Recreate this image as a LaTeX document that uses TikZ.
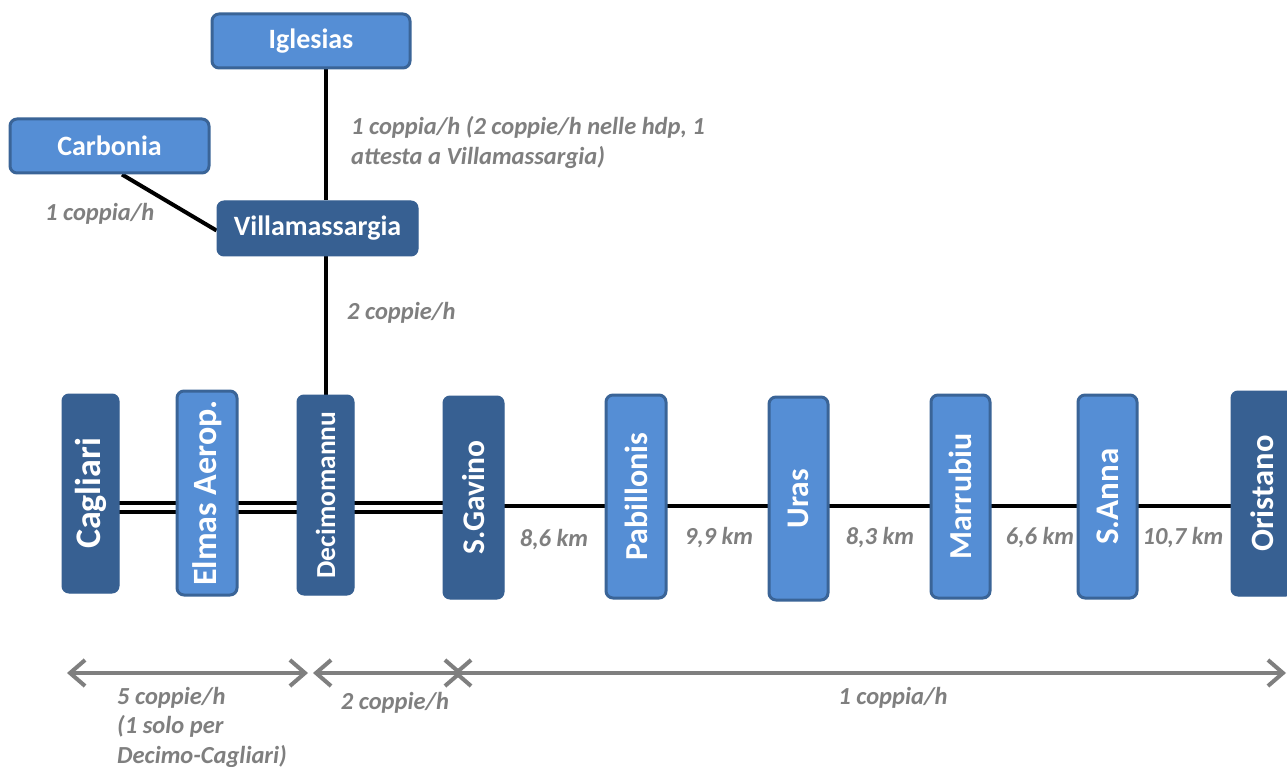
\documentclass[tikz,border=0pt]{standalone}
\usepackage{fontspec}
\setmainfont{Carlito}
\usetikzlibrary{arrows.meta,backgrounds}
\definecolor{lightbox}{HTML}{558ED5}
\definecolor{darkbox}{HTML}{376092}
\definecolor{boxedge}{HTML}{3A6497}
\definecolor{labelgrey}{HTML}{7F7F7F}
\begin{document}
\begin{tikzpicture}[x=1pt,y=-1pt,
  boxbase/.style={rounded corners=7pt, text=white, inner sep=0pt, font=\bfseries\fontsize{28}{32}\selectfont},
  lightst/.style={boxbase, draw=boxedge, line width=3pt, fill=lightbox},
  darkst/.style={boxbase, draw=darkbox, line width=1pt, fill=darkbox},
  vert/.style={rotate=90},
  track/.style={line width=4pt, black},
  dbltrack/.style={line width=3.5pt, double=white, double distance=5.5pt, draw=black},
  lbl/.style={text=labelgrey, font=\bfseries\itshape\fontsize{24.5}{29.5}\selectfont, inner sep=0pt, align=left},
  span/.style={draw=labelgrey, line width=4pt, {Straight Barb[length=15pt,width=26pt]}-{Straight Barb[length=15pt,width=26pt]}}
]
\clip (0,0) rectangle (1287,767);

% horizontal boxes
\node[lightst, minimum width=198pt, minimum height=54pt] (igl) at (311,41) {Iglesias};
\node[lightst, minimum width=199pt, minimum height=54pt] (carb) at (109.5,146) {Carbonia};
\node[darkst, minimum width=201pt, minimum height=55pt] (vil) at (317.5,228.5) {Villamassargia};

% vertical station boxes
\node[darkst, vert, minimum width=199pt, minimum height=57pt, font=\bfseries\fontsize{36}{40}\selectfont] (cag) at (90.5,493.5) {Cagliari};
\node[lightst, vert, minimum width=204pt, minimum height=60pt, font=\bfseries\fontsize{34}{38}\selectfont] (elm) at (207,493) {Elmas Aerop.};
\node[darkst, vert, minimum width=200pt, minimum height=57pt, font=\bfseries\fontsize{27.5}{31}\selectfont] (dec) at (325.5,495) {Decimomannu};
\node[darkst, vert, minimum width=203pt, minimum height=61pt, font=\bfseries\fontsize{31.5}{35}\selectfont] (sgv) at (473.5,497.5) {S.Gavino};
\node[lightst, vert, minimum width=203pt, minimum height=60pt, font=\bfseries\fontsize{32}{36}\selectfont] (pab) at (636,496.5) {Pabillonis};
\node[lightst, vert, minimum width=203pt, minimum height=59pt, font=\bfseries\fontsize{31.5}{35}\selectfont] (ura) at (798.5,498.5) {Uras};
\node[lightst, vert, minimum width=203pt, minimum height=59pt, font=\bfseries\fontsize{32}{36}\selectfont] (mar) at (960.5,496.5) {Marrubiu};
\node[lightst, vert, minimum width=203pt, minimum height=59pt, font=\bfseries\fontsize{33}{37}\selectfont] (san) at (1107.5,496.5) {S.Anna};
\node[darkst, vert, minimum width=205pt, minimum height=62pt, font=\bfseries\fontsize{32.5}{36}\selectfont] (ori) at (1262,493.5) {Oristano};

\coordinate (vx) at (326,0);
\coordinate (ty) at (0,507.5);
\coordinate (ts) at (0,506);

\begin{scope}[on background layer]
  \fill[white] (0,0) rectangle (1287,767);
  \draw[track] (igl.south -| vx) -- (vil.north -| vx);
  \draw[track] (vil.south -| vx) -- (dec.east -| vx);
  \draw[track] ([xshift=12.5pt]carb.south) -- ([yshift=-2pt]vil.west);
  \draw[dbltrack] (cag.center |- ty) -- (sgv.center |- ty);
  \draw[track] (sgv.center |- ts) -- (ori.center |- ts);
\end{scope}

% labels
\node[lbl, anchor=west] (l1) at (351,142.5) {1 coppia/h (2 coppie/h nelle hdp, 1\\attesta a Villamassargia)};
\node[lbl, anchor=west] (l2) at (45,214) {1 coppia/h};
\node[lbl, anchor=west] (l3) at (347,313) {2 coppie/h};
\node[lbl] (k1) at (554,540) {8,6 km};
\node[lbl] (k2) at (719,538) {9,9 km};
\node[lbl] (k3) at (880,538) {8,3 km};
\node[lbl] (k4) at (1040,538) {6,6 km};
\node[lbl] (k5) at (1183,538) {10,7 km};

% span arrows
\coordinate (a1) at (67,673);
\coordinate (a2) at (308,673);
\coordinate (b1) at (313,673);
\coordinate (b2) at (463,673);
\coordinate (c1) at (453,673);
\coordinate (c2) at (1286,673);
\draw[span] (a1) -- (a2);
\draw[span] (b1) -- (b2);
\draw[span] (c1) -- (c2);
\node[lbl, anchor=west] (s1) at (117,727) {5 coppie/h\\(1 solo per\\Decimo-Cagliari)};
\node[lbl] (s2) at (395,703) {2 coppie/h};
\node[lbl] (s3) at (893,698) {1 coppia/h};
\end{tikzpicture}
\end{document}
